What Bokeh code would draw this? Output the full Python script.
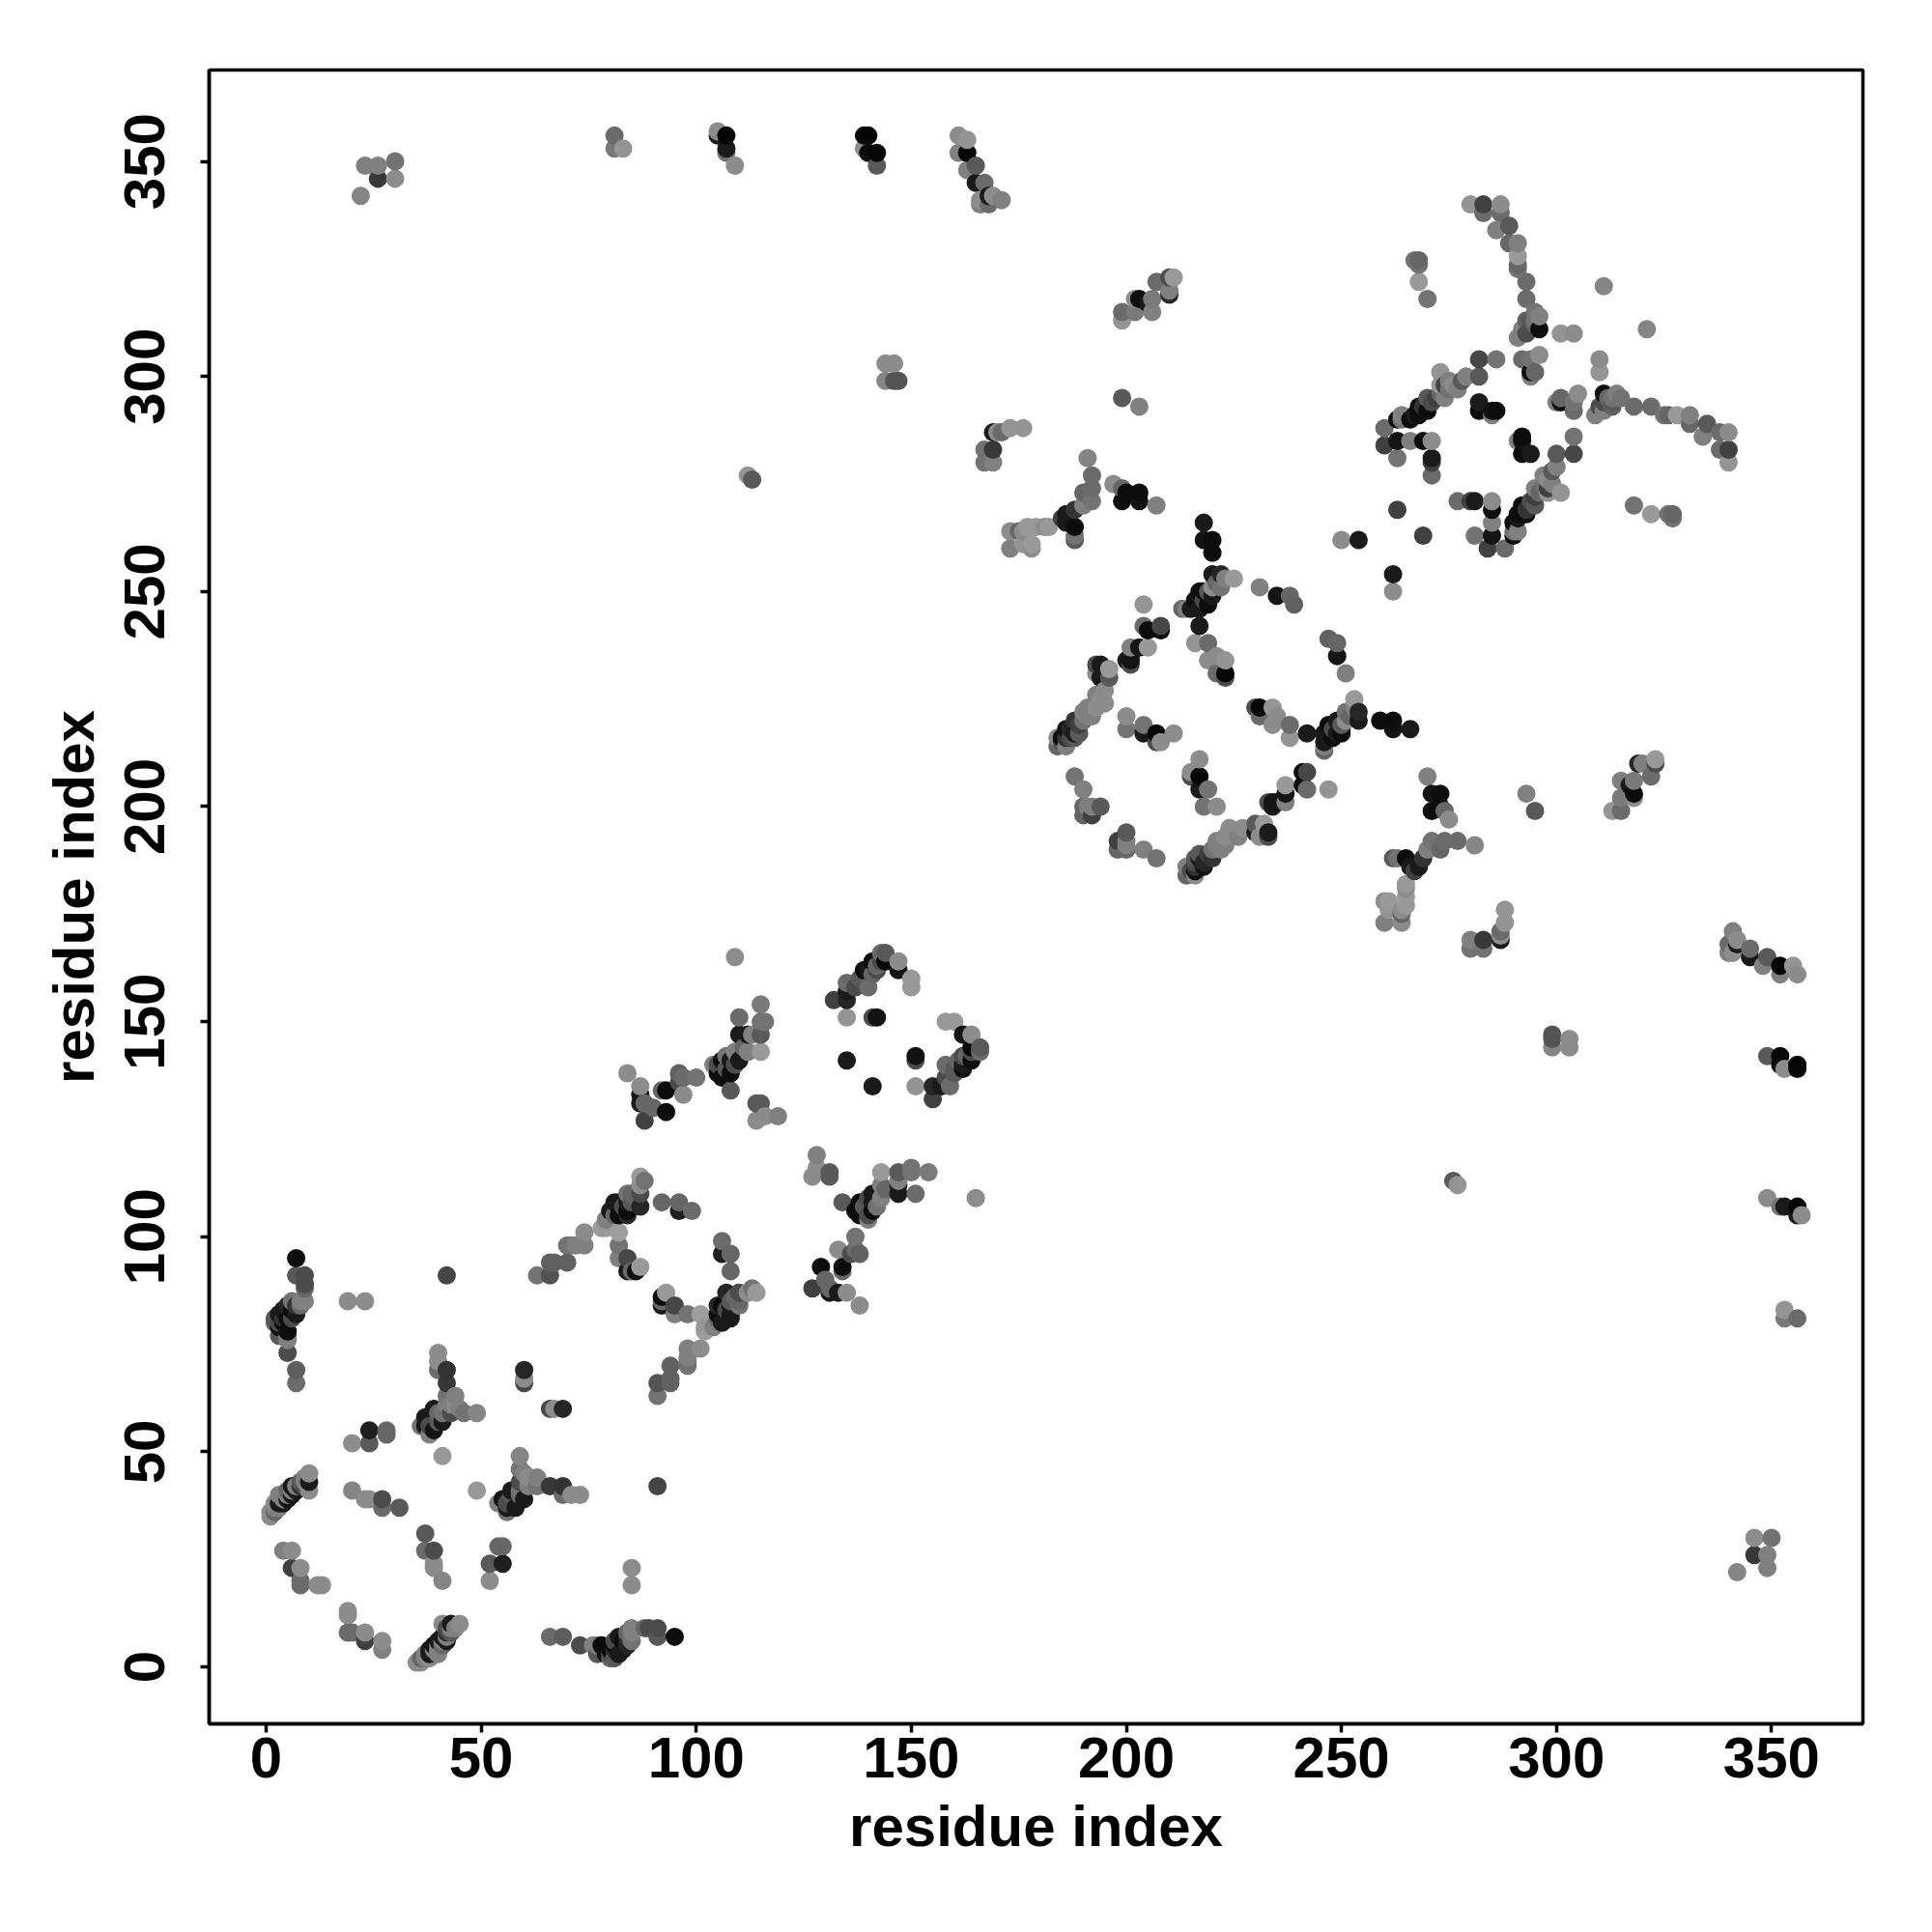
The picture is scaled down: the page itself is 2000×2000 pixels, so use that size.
from bokeh.plotting import figure
from bokeh.models import ColumnDataSource, Range1d, FixedTicker
from bokeh.embed import file_html
from bokeh.resources import INLINE

# Each contact: (residue i, residue j, grey level); i < j, map is symmetric.
helix_a = [(2,80,.4),(2,81,.35),(3,79,.05),(3,82,.1),(4,80,.05),(4,83,.1),(5,78,.05),(5,81,.05),(5,84,.15),
           (6,83,.05),(7,82,.1),(7,84,.2),(8,85,.5),(9,85,.5),(3,77,.35),(5,77,.5),(5,76,.5),(5,73,.3),
           (7,69,.37),(7,66,.42),(7,95,.05),(7,91,.35),(9,91,.3),(9,89,.3),(9,88,.4),(19,85,.55),(23,85,.55),(42,91,.27),
           (3,80,.3),(4,81,.2),(6,81,.3),(6,85,.45),(8,84,.4)]
helix_b = [(1,35,.55),(1,36,.55),(2,36,.4),(2,37,.5),(3,38,.1),(3,40,.5),(4,38,.1),(4,40,.5),(5,39,.08),(5,41,.4),
           (6,40,.1),(6,42,.1),(7,41,.1),(8,42,.2),(8,43,.35),(9,43,.5),(10,41,.55),(10,43,.1),(10,45,.55),
           (20,41,.52),(23,39,.55),(24,39,.55),(27,39,.3),(27,37,.42),(31,37,.35),(4,27,.5),(6,27,.55),
           (6,23,.25),(8,23,.55),(8,19,.42),(8,20,.42),(12,19,.55),(13,19,.55),
           (20,52,.55),(24,52,.35),(24,55,.12),(28,55,.4),(28,54,.4),
           (2,38,.55),(3,37,.5),(4,39,.5),(5,40,.5),(6,41,.5),(7,42,.5),(9,42,.3),(9,44,.5)]
helix_c = [(40,73,.55),(40,71,.55),(40,69,.42),(42,69,.2),(42,66,.22),(42,63,.45),(44,63,.5),(44,61,.55),
           (46,59,.45),(49,59,.52),(41,49,.6),(36,56,.45),(37,56,.1),(37,58,.1),(39,60,.1),(39,55,.08),
           (41,57,.1),(43,59,.3),(42,61,.5),(60,69,.15),(60,66,.28),(60,67,.55),
           (38,56,.3),(40,57,.35),(40,59,.4),(41,59,.45),(43,61,.5),(45,60,.5),(38,54,.5)]
strand_a = [(63,91,.45),(66,91,.33),(66,94,.38),(67,94,.38),(70,94,.38),(70,98,.45),(71,98,.45),(72,98,.5),
            (74,98,.5),(74,101,.55),(78,102,.62),(79,102,.6),(82,101,.62),(79,104,.5),(80,106,.1),(81,108,.1),
            (82,108,.1),(82,105,.05),(84,106,.05),(84,105,.15),(84,108,.1),(87,107,.15),(87,110,.3),
            (87,114,.6),(88,113,.45),(87,112,.55),(85,110,.4),(84,110,.45),(92,108,.4),(96,108,.4),(96,106,.12),
            (99,106,.42),(82,98,.45),(84,95,.28),(82,95,.5),(84,92,.1),(85,92,.4),(86,92,.05),(87,93,.6),
            (81,105,.4),(83,107,.3),(85,108,.35),(86,109,.4)]
strand_b = [(109,165,.55),(115,154,.48),(110,151,.42),(115,150,.45),(116,150,.45),(115,147,.35),(110,147,.1),
            (112,147,.1),(113,147,.5),(115,143,.6),(112,143,.5),(109,143,.5),(106,141,.05),(108,141,.1),(110,141,.1),
            (104,140,.5),(105,138,.05),(108,138,.05),(106,137,.05),(108,134,.35),(114,131,.35),(115,131,.35),
            (114,127,.55),(116,128,.55),(119,128,.5),(84,138,.55),(87,135,.55),(87,133,.1),(88,131,.4),(87,131,.1),
            (90,130,.4),(88,127,.25),(93,134,.05),(92,134,.4),(93,129,.05),(96,138,.38),(97,137,.42),(100,137,.45),
            (97,133,.55),(96,136,.3),(105,140,.3),(107,139,.35),(109,140,.3),(111,144,.4),(107,142,.45)]
strand_c = [(132,155,.25),(135,155,.15),(135,159,.42),(135,157,.1),(138,160,.35),(140,158,.42),(139,162,.05),
            (140,162,.1),(141,164,.05),(142,162,.3),(143,166,.42),(144,164,.03),(147,162,.08),(147,164,.55),
            (150,160,.6),(150,158,.6),(135,151,.58),(141,151,.3),(142,151,.07),(135,141,.1),
            (137,158,.3),(139,160,.35),(141,161,.4),(142,163,.4),(144,166,.35),(143,164,.3)]
far_left = [(23,349,.5),(26,349,.5),(30,350,.45),(26,346,.22),(30,346,.55),(22,342,.52),(81,356,.42),(81,353,.48),
            (83,353,.58),(105,357,.55),(105,356,.1),(107,356,.02),(107,353,.1),(107,352,.45),(109,349,.55),
            (112,277,.58),(113,276,.35)]
far_mid = [(139,356,.05),(140,356,.02),(139,353,.55),(140,352,.05),(142,352,.03),(142,349,.35),(161,356,.55),
           (163,355,.58),(161,352,.5),(163,352,.02),(163,348,.5),(165,349,.35),(165,345,.1),(167,345,.42),
           (166,341,.55),(168,342,.1),(166,340,.5),(168,340,.42),(169,342,.55),(171,341,.5),(144,303,.55),
           (146,303,.55),(144,299,.52),(146,299,.33),(147,299,.33),(199,315,.42),(199,313,.58),(202,315,.48),
           (203,318,.05),(202,318,.55),(206,315,.5),(205,317,.1),(207,322,.42),(206,318,.48),(210,319,.15),
           (210,320,.5),(210,323,.3),(211,323,.6),(199,295,.35),(203,293,.5)]
far_right = [(169,287,.1),(170,287,.55),(171,287,.42),(173,288,.58),(176,288,.58),(167,283,.45),(169,283,.22),
             (167,280,.45),(169,280,.5),(173,264,.55),(173,260,.5),(176,264,.55),(176,261,.58),(175,264,.4),
             (178,260,.55),(178,261,.6),(177,265,.6),(179,265,.6),(181,265,.55),(182,265,.6),
             (191,281,.52),(192,277,.42),(190,273,.4),(192,274,.42),(192,271,.45),(190,270,.5),(188,269,.2),
             (186,268,.1),(185,267,.25),(186,266,.1),(188,265,.05),(188,263,.45),(188,262,.35),(197,275,.55),
             (199,274,.4),(200,273,.05),(203,273,.05),(203,271,.08),(199,271,.05),(207,270,.5)]
domain_a = [(218,266,.1),(218,262,.08),(220,262,.05),(220,259,.05),(220,254,.1),(222,254,.15),(223,253,.5),
            (225,253,.6),(222,251,.45),(220,249,.1),(218,250,.05),(220,251,.55),(213,246,.4),(214,246,.5),
            (216,248,.05),(215,246,.1),(217,250,.05),(217,249,.1),(219,247,.05),(217,246,.1),(217,242,.1),
            (231,251,.5),(235,249,.08),(238,249,.4),(239,247,.38),(204,247,.58),(204,242,.42),(205,241,.05),
            (208,242,.28),(208,241,.05),(201,237,.5),(205,237,.6),(203,237,.08),(201,235,.08),(201,234,.08),
            (200,234,.1),(201,233,.3),(193,233,.3),(194,233,.1),(196,232,.6),(193,231,.55),(196,230,.35),
            (194,230,.1),(195,227,.55),(195,224,.55),(193,223,.55),(191,223,.5),(191,221,.5),(188,220,.2),
            (189,219,.25),(192,221,.5),(186,218,.08),(188,217,.1),(185,216,.05),(184,216,.55),(184,214,.4),
            (186,214,.5),(188,216,.35),(187,216,.3),(187,218,.15),(189,217,.35),(190,220,.45),(190,222,.5),
            (192,223,.5),(194,225,.55),(193,226,.5),(186,216,.2),(185,215,.3),(218,248,.3),(219,250,.35),(221,252,.4)]
domain_b = [(200,221,.55),(200,218,.45),(204,219,.45),(204,217,.1),(207,217,.02),(208,215,.55),(211,217,.55),
            (207,215,.3),(216,238,.58),(219,238,.42),(219,234,.55),(221,235,.55),(223,234,.58),(221,231,.42),
            (223,231,.03),(223,230,.3),(188,207,.45),(190,204,.5),(190,200,.4),(190,198,.4),(194,200,.35),
            (192,198,.25),(191,200,.5),(192,200,.5),(263,269,.25),(250,262,.55),(254,262,.1)]
domain_c = [(280,340,.58),(283,340,.25),(283,338,.42),(287,340,.55),(287,338,.42),(286,334,.5),(289,335,.35),
            (289,331,.4),(291,331,.5),(291,328,.6),(291,326,.4),(291,325,.45),(293,322,.42),(293,318,.42),
            (296,314,.5),(295,315,.45),(293,313,.38),(296,311,.05),(294,311,.3),(292,311,.5),(293,310,.3),
            (291,309,.5),(301,310,.58),(304,310,.55),(311,321,.52),(268,327,.4),(267,327,.45),(268,326,.45),
            (268,322,.6),(270,318,.45),(294,313,.35),(295,312,.4),(295,313,.45)]
domain_d = [(286,304,.45),(282,304,.28),(282,300,.35),(279,300,.5),(273,301,.58),(273,298,.58),(278,299,.35),
            (276,298,.55),(275,299,.5),(274,298,.25),(274,295,.5),(272,295,.25),(270,295,.35),(268,293,.05),
            (268,291,.05),(270,292,.05),(266,290,.05),(264,290,.45),(263,290,.05),(260,288,.42),(260,284,.25),
            (263,285,.08),(263,281,.45),(266,285,.5),(269,285,.05),(271,285,.55),(271,281,.1),(271,280,.25),
            (271,277,.42),(264,291,.5),(292,304,.42),(294,304,.45),(296,305,.55),(294,301,.05),(295,301,.4),
            (294,300,.5),(282,294,.1),(282,292,.05),(285,292,.08),(286,292,.05),(285,291,.5),
            (273,296,.4),(275,297,.45),(277,297,.5),(271,294,.3),(269,293,.2),(267,291,.1)]
x_ticks = [0, 50, 100, 150, 200, 250, 300, 350]
y_ticks = [0, 50, 100, 150, 200, 250, 300, 350]
axis_title = "residue index"

half = (helix_a + helix_b + helix_c + strand_a + strand_b + strand_c + far_left + far_mid +
        far_right + domain_a + domain_b + domain_c + domain_d)
contacts = sorted(half + [(j, i, g) for i, j, g in half])
xs = [c[0] for c in contacts]
ys = [c[1] for c in contacts]
colors = ["#%02x%02x%02x" % ((round(c[2] * 255),) * 3) for c in contacts]

FW = 1712
p = figure(width=216 + FW + 40, height=72 + FW + 180, output_backend="svg", toolbar_location=None,
           x_range=Range1d(-13.24, 371.24), y_range=Range1d(-13.24, 371.24),
           min_border_left=216, min_border_right=40, min_border_top=72, min_border_bottom=180,
           frame_width=FW, frame_height=FW)
p.grid.visible = False
p.outline_line_color = "black"
p.outline_line_width = 3.5
p.scatter(x="x", y="y", source=ColumnDataSource(dict(x=xs, y=ys, c=colors)), size=19,
          fill_color="c", line_color=None)
for ax, ticks in ((p.xaxis[0], x_ticks), (p.yaxis[0], y_ticks)):
    ax.ticker = FixedTicker(ticks=ticks)
    ax.axis_label = axis_title
    ax.axis_label_text_font = "Liberation Sans"
    ax.axis_label_text_font_style = "bold"
    ax.axis_label_text_font_size = "60px"
    ax.axis_label_text_color = "black"
    ax.major_label_text_font = "Liberation Sans"
    ax.major_label_text_font_style = "bold"
    ax.major_label_text_font_size = "60px"
    ax.major_label_text_color = "black"
    ax.major_tick_in = 0
    ax.major_tick_out = 9
    ax.major_tick_line_width = 3.5
    ax.major_tick_line_color = "black"
    ax.minor_tick_line_color = None
    ax.axis_line_width = 3.5
    ax.axis_line_color = "black"
p.xaxis[0].major_label_standoff = 5
p.xaxis[0].axis_label_standoff = 14
p.yaxis[0].major_label_standoff = 37
p.yaxis[0].axis_label_standoff = 17
p.yaxis[0].major_label_orientation = "vertical"

open("out.html", "w").write(file_html(p, INLINE))
